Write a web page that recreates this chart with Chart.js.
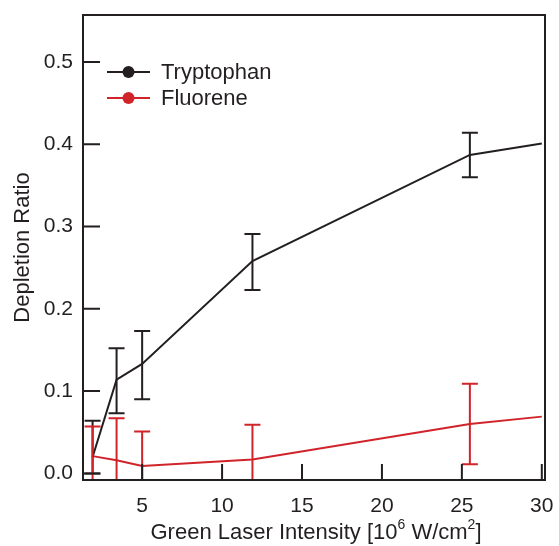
<!DOCTYPE html>
<html>
<head>
<meta charset="utf-8">
<script src="https://cdn.jsdelivr.net/npm/chart.js@4"></script>
<style>
  html, body { margin: 0; padding: 0; background: #fff; }
  #wrap { width: 559px; height: 546px; }
</style>
</head>
<body>
<div id="wrap"><canvas id="myChart" width="559" height="546"></canvas></div>
<script>
var intensity = [1.9, 3.4, 5.0, 11.9, 25.5, 30.0];
var trpVals = [0.020, 0.114, 0.133, 0.258, 0.387, 0.401];
var trpLow  = [0.000, 0.073, 0.090, 0.223, 0.360, null];
var trpHigh = [0.064, 0.152, 0.173, 0.291, 0.414, null];
var fluVals = [0.021, 0.016, 0.009, 0.017, 0.060, 0.069];
var fluLow  = [-0.010, -0.010, -0.010, -0.010, 0.011, null];
var fluHigh = [0.057, 0.067, 0.051, 0.059, 0.109, null];
var xTicks = [5, 10, 15, 20, 25, 30];
var yTicks = [0.0, 0.1, 0.2, 0.3, 0.4, 0.5];

var black = "#231f20";
var red = "#d1232a";
var font = "'Liberation Sans', Arial, sans-serif";

function pts(xs, ys) {
  return xs.map(function (x, i) { return { x: x, y: ys[i] }; });
}

// error bars, frame, inward ticks, legend and x title with superscripts
var decor = {
  id: "decor",
  afterDatasetsDraw: function (chart) {
    var ctx = chart.ctx;
    var xs = chart.scales.x, ys = chart.scales.y;
    var a = chart.chartArea;
    ctx.save();
    ctx.beginPath();
    ctx.rect(a.left, a.top, a.right - a.left, a.bottom - a.top);
    ctx.clip();
    var bars = [[trpLow, trpHigh, black], [fluLow, fluHigh, red]];
    bars.forEach(function (b) {
      ctx.strokeStyle = b[2];
      ctx.lineWidth = 2;
      intensity.forEach(function (x, i) {
        if (b[0][i] === null) return;
        var px = xs.getPixelForValue(x);
        var lo = ys.getPixelForValue(b[0][i]);
        var hi = ys.getPixelForValue(b[1][i]);
        ctx.beginPath();
        ctx.moveTo(px, lo); ctx.lineTo(px, hi);
        ctx.moveTo(px - 8, hi); ctx.lineTo(px + 8, hi);
        ctx.moveTo(px - 8, lo); ctx.lineTo(px + 8, lo);
        ctx.stroke();
      });
    });
    ctx.restore();

    ctx.save();
    ctx.strokeStyle = black;
    ctx.lineWidth = 2;
    ctx.strokeRect(a.left, a.top, a.right - a.left, a.bottom - a.top);
    ctx.beginPath();
    xTicks.forEach(function (v) {
      var px = xs.getPixelForValue(v);
      ctx.moveTo(px, a.bottom); ctx.lineTo(px, a.bottom - 16);
    });
    yTicks.forEach(function (v) {
      var py = ys.getPixelForValue(v);
      ctx.moveTo(a.left, py); ctx.lineTo(a.left + 17, py);
    });
    ctx.stroke();

    // legend
    var items = [["Tryptophan", black, 72], ["Fluorene", red, 98]];
    ctx.font = "22px " + font;
    ctx.textBaseline = "middle";
    items.forEach(function (it) {
      ctx.strokeStyle = it[1];
      ctx.fillStyle = it[1];
      ctx.beginPath();
      ctx.moveTo(107, it[2]); ctx.lineTo(150, it[2]);
      ctx.stroke();
      ctx.beginPath();
      ctx.arc(128.5, it[2], 6, 0, Math.PI * 2);
      ctx.fill();
      ctx.fillStyle = black;
      ctx.fillText(it[0], 161, it[2] + 1);
    });

    // x axis title
    var parts = [["Green Laser Intensity [10", 22, 0], ["6", 14, -10], [" W/cm", 22, 0], ["2", 14, -10], ["]", 22, 0]];
    var w = 0;
    parts.forEach(function (p) { ctx.font = p[1] + "px " + font; w += ctx.measureText(p[0]).width; });
    var tx = (a.left + a.right) / 2 - w / 2 + 2;
    ctx.textBaseline = "alphabetic";
    ctx.fillStyle = black;
    parts.forEach(function (p) {
      ctx.font = p[1] + "px " + font;
      ctx.fillText(p[0], tx, 539 + p[2]);
      tx += ctx.measureText(p[0]).width;
    });
    ctx.restore();
  }
};

var ctx = document.getElementById("myChart");
var myChart = new Chart(ctx, {
  type: "line",
  data: {
    datasets: [{
      label: "Tryptophan",
      data: pts(intensity, trpVals),
      borderColor: black,
      borderWidth: 2,
      pointRadius: 0
    }, {
      label: "Fluorene",
      data: pts(intensity, fluVals),
      borderColor: red,
      borderWidth: 2,
      pointRadius: 0
    }]
  },
  options: {
    responsive: false,
    animation: false,
    layout: { padding: { top: 15, right: 14, left: 0, bottom: 0 } },
    plugins: { legend: { display: false }, tooltip: { enabled: false } },
    scales: {
      x: {
        type: "linear",
        min: 1.3, max: 30.2,
        afterBuildTicks: function (s) { s.ticks = xTicks.map(function (v) { return { value: v }; }); },
        afterFit: function (s) { s.height = 66; s.paddingLeft = 0; s.paddingRight = 0; },
        grid: { display: false, drawTicks: false },
        border: { display: false },
        ticks: { color: black, font: { family: font, size: 21 }, padding: 14, maxRotation: 0 }
      },
      y: {
        min: -0.008, max: 0.557,
        afterBuildTicks: function (s) { s.ticks = yTicks.map(function (v) { return { value: v }; }); },
        afterFit: function (s) { s.width = 83; s.paddingTop = 0; s.paddingBottom = 0; },
        grid: { display: false, drawTicks: false },
        border: { display: false },
        ticks: {
          color: black, font: { family: font, size: 21 }, padding: 10,
          callback: function (v) { return v.toFixed(1); }
        },
        title: {
          display: true,
          text: "Depletion Ratio",
          color: black,
          font: { family: font, size: 22 },
          padding: { top: 10, bottom: 2 }
        }
      }
    }
  },
  plugins: [decor]
});
</script>
</body>
</html>
